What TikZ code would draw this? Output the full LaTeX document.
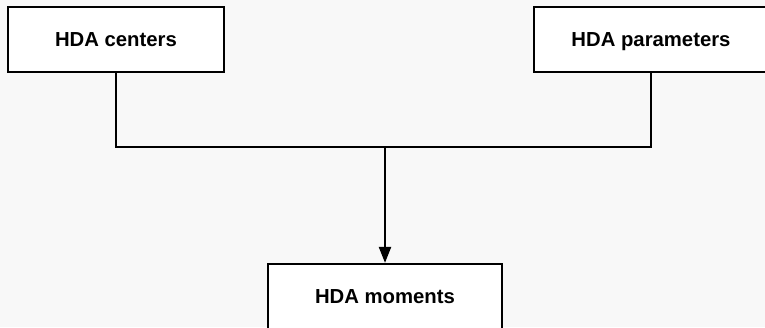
\documentclass[tikz,border=0pt]{standalone}
\usepackage{fontspec}
\setmainfont{Liberation Sans}
\usetikzlibrary{arrows.meta}
\definecolor{bgcol}{HTML}{F8F8F8}

\begin{document}
\begin{tikzpicture}[x=1pt, y=-1pt, >={Triangle[width=12pt,length=16pt]},
			line width=2.2pt,
			box/.style={draw, fill=white, rectangle, line width=2.2pt, minimum height=65pt,
				font=\fontsize{20.3}{24}\selectfont\bfseries, inner sep=0pt,
				text height=14.5pt, text depth=0pt}]
			
			% Sfondo e area del disegno
			\fill[bgcol] (0,0) rectangle (765,327);
			\useasboundingbox (0,0) rectangle (765,327);
			
			% Blocchi
			\node[box, minimum width=216pt] (centers) at (116,39.5) {HDA centers};
			\node[box, minimum width=234pt] (params) at (651,39.5) {HDA parameters};
			\node[box, minimum width=234pt] (moments) at (385,296.5) {HDA moments};
			
			% Punto di giunzione
			\coordinate (join) at (385,147);
			
			% Collegamenti
			\draw (centers.south) |- (join) -| (params.south);
			\draw[->] (join) -- (moments.north);
		\end{tikzpicture}
\end{document}
